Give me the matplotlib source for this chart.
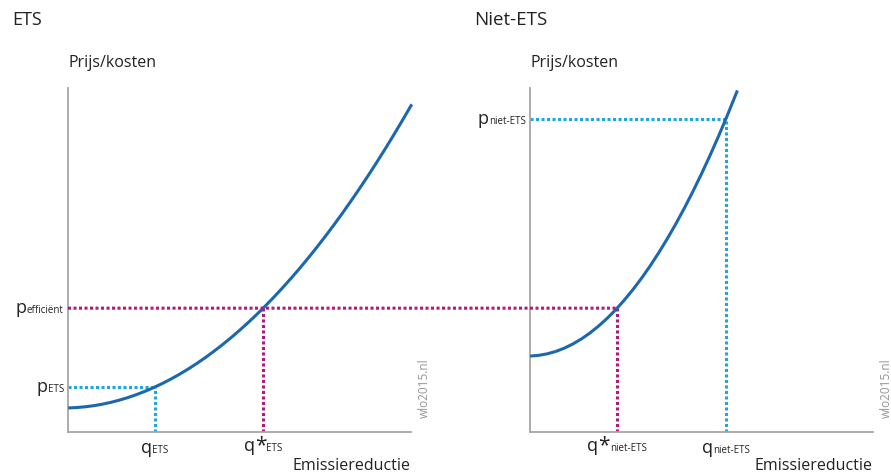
import matplotlib
import matplotlib.pyplot as plt
from matplotlib.patches import ConnectionPatch
from matplotlib.offsetbox import TextArea, HPacker, AnnotationBbox

matplotlib.rcParams["font.family"] = ["Open Sans", "DejaVu Sans"]

# ── data (arbitrary units 0-10) ────────────────────────────────
ets_x = [0.05, 0.25, 0.5, 0.75, 1.0, 1.25, 1.5, 1.75, 2.0, 2.25, 2.5, 2.75,
         3.0, 3.25, 3.5, 3.75, 4.0, 4.25, 4.5, 4.75, 5.0, 5.25, 5.5, 5.75,
         6.0, 6.25, 6.5, 6.75, 7.0, 7.25, 7.5, 7.75, 8.0, 8.25, 8.5, 8.75,
         9.0, 9.25, 9.5, 9.75, 10.0]
ets_y = [0.701, 0.711, 0.733, 0.765, 0.808, 0.862, 0.927, 1.002, 1.088, 1.185,
         1.292, 1.410, 1.539, 1.678, 1.828, 1.989, 2.160, 2.343, 2.536, 2.739,
         2.954, 3.179, 3.414, 3.661, 3.918, 4.186, 4.464, 4.753, 5.053, 5.364,
         5.685, 6.017, 6.360, 6.714, 7.078, 7.452, 7.838, 8.234, 8.641, 9.059,
         9.487]

niet_x = [0.05, 0.25, 0.5, 0.75, 1.0, 1.25, 1.5, 1.75, 2.0, 2.25, 2.5, 2.75,
          3.0, 3.25, 3.5, 3.75, 4.0, 4.25, 4.5, 4.75, 5.0, 5.25, 5.5, 5.75,
          6.03]
niet_y = [2.211, 2.228, 2.272, 2.341, 2.437, 2.559, 2.706, 2.880, 3.080, 3.306,
          3.557, 3.835, 4.139, 4.468, 4.824, 5.206, 5.614, 6.047, 6.507, 6.993,
          7.505, 8.042, 8.606, 9.196, 9.887]

p_eff = 3.60       # p efficiënt
p_ets = 1.31       # p ETS
q_ets = 2.53
q_star_ets = 5.69
p_niet = 9.10      # p niet-ETS
q_star_niet = 2.54
q_niet = 5.71

blue = "#1c68ae"
cyan = "#1fa6e0"
magenta = "#b01a7c"
grey = "#a6a6a6"
txt = "#222222"
dots = (0, (1.0, 0.8))
lw = 2.2

fig = plt.figure(figsize=(8.91, 4.74), dpi=100)
ax1 = fig.add_axes([68 / 891, 42 / 474, 343 / 891, 344 / 474])
ax2 = fig.add_axes([530 / 891, 42 / 474, 343 / 891, 344 / 474])

for ax in (ax1, ax2):
    ax.set_xlim(0, 10)
    ax.set_ylim(0, 10)
    ax.set_xticks([])
    ax.set_yticks([])
    for s in ("top", "right"):
        ax.spines[s].set_visible(False)
    for s in ("left", "bottom"):
        ax.spines[s].set_color(grey)
        ax.spines[s].set_linewidth(1.3)


def dotted(ax, xs, ys, color):
    ax.plot(xs, ys, color=color, linewidth=lw, linestyle=dots, dash_capstyle="butt")


def label(ax, main, sub, xy, trans, offset, align, star=False):
    parts = [TextArea(main, textprops=dict(size=13, color=txt))]
    if star:
        parts.append(TextArea("*", textprops=dict(size=15, color=txt)))
    parts.append(TextArea(sub, textprops=dict(size=7, color=txt)))
    box = HPacker(children=parts, align="baseline", pad=0, sep=0)
    ab = AnnotationBbox(box, xy, xycoords=trans, xybox=offset,
                        boxcoords="offset points", box_alignment=align,
                        frameon=False, annotation_clip=False)
    ax.add_artist(ab)


# ── ETS ───────────────────────────────────────────────
ax1.plot(ets_x, ets_y, color=blue, linewidth=lw, clip_on=False, zorder=3)
dotted(ax1, [0, q_ets], [p_ets, p_ets], cyan)
dotted(ax1, [q_ets, q_ets], [0, p_ets], cyan)
dotted(ax1, [q_star_ets, q_star_ets], [0, p_eff], magenta)

ytr1 = ax1.get_yaxis_transform()
xtr1 = ax1.get_xaxis_transform()
label(ax1, "p", "efficiënt", (0, p_eff), ytr1, (-3, 0), (1, 0.5))
label(ax1, "p", "ETS", (0, p_ets), ytr1, (-3, 0), (1, 0.5))
label(ax1, "q", "ETS", (q_ets, 0), xtr1, (0, -5), (0.5, 1))
label(ax1, "q", "ETS", (q_star_ets, 0), xtr1, (0, -2), (0.5, 1), star=True)

# ── Niet-ETS ──────────────────────────────────────────
ax2.plot(niet_x, niet_y, color=blue, linewidth=lw, clip_on=False, zorder=3)
dotted(ax2, [0, q_niet], [p_niet, p_niet], cyan)
dotted(ax2, [q_niet, q_niet], [0, p_niet], cyan)
dotted(ax2, [q_star_niet, q_star_niet], [0, p_eff], magenta)

ytr2 = ax2.get_yaxis_transform()
xtr2 = ax2.get_xaxis_transform()
label(ax2, "p", "niet-ETS", (0, p_niet), ytr2, (-3, 0), (1, 0.5))
label(ax2, "q", "niet-ETS", (q_star_niet, 0), xtr2, (0, -2), (0.5, 1), star=True)
label(ax2, "q", "niet-ETS", (q_niet, 0), xtr2, (0, -5), (0.5, 1))

# efficiënte prijs loopt door over beide panelen
con = ConnectionPatch(xyA=(0, p_eff), coordsA=ax1.transData,
                      xyB=(q_star_niet, p_eff), coordsB=ax2.transData,
                      color=magenta, linewidth=lw, linestyle=dots)
con.set_capstyle("butt")
fig.add_artist(con)

# ── teksten ───────────────────────────────────────────
fig.text(12 / 891, 1 - 20 / 474, "ETS", fontsize=13, va="center", color=txt)
fig.text(474 / 891, 1 - 20 / 474, "Niet-ETS", fontsize=13.5, va="center", color=txt)
for ax in (ax1, ax2):
    ax.text(0, 1 + 25 / 344, "Prijs/kosten", transform=ax.transAxes,
            fontsize=11.5, va="center", ha="left", color=txt)
    ax.text(1, -34 / 344, "Emissiereductie", transform=ax.transAxes,
            fontsize=11.5, va="center", ha="right", color=txt)
    ax.text(1.038, 0.128, "wlo2015.nl", transform=ax.transAxes, rotation=90,
            fontsize=8.5, color="#959595", ha="center", va="center")

plt.savefig("out.png", dpi=100)
